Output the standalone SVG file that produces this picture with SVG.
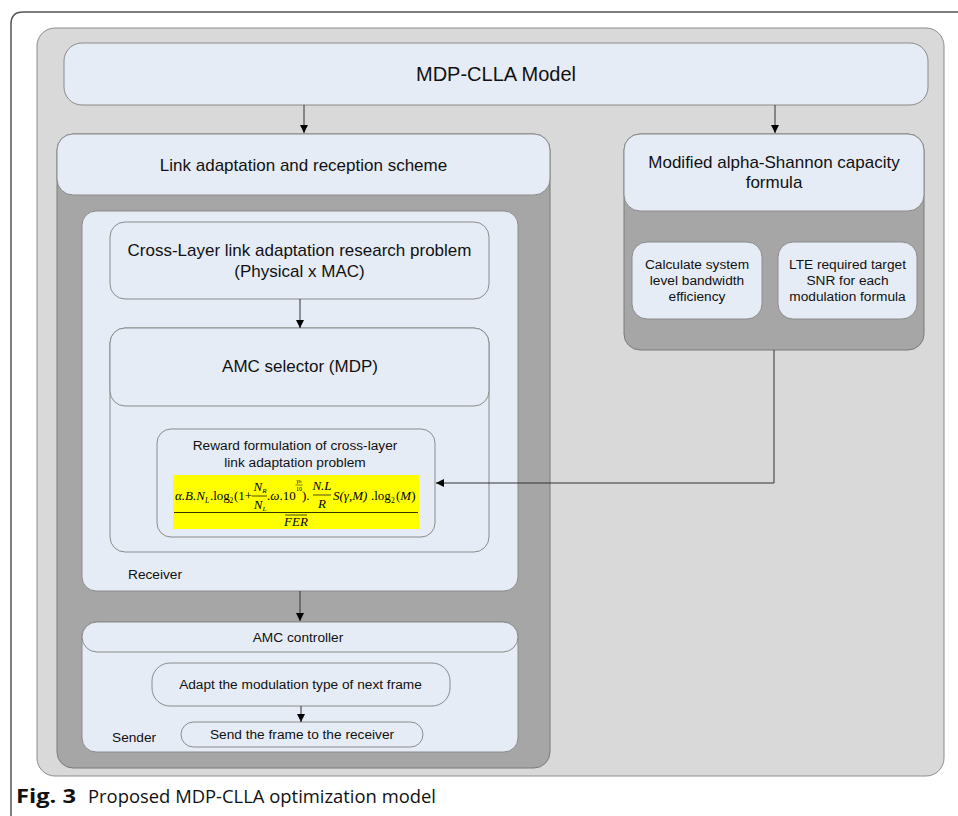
<svg xmlns="http://www.w3.org/2000/svg" width="958" height="816" viewBox="0 0 958 816">
<defs>
<style>
.box{fill:#e6ecf6;stroke:#8a8a8a;stroke-width:1}
.dark{fill:#a6a6a6;stroke:#7a7a7a;stroke-width:1}
.t{font-family:"Liberation Sans",Arial,sans-serif;fill:#111;text-anchor:middle}
.tl{font-family:"Liberation Sans",Arial,sans-serif;fill:#111}
.m{font-family:"Liberation Serif","Times New Roman",serif;font-style:italic;fill:#000}
.mu{font-family:"Liberation Serif","Times New Roman",serif;font-style:normal;fill:#000}
.conn{stroke:#333;stroke-width:1;fill:none}
</style>
<marker id="ah" viewBox="0 0 10 10" refX="10" refY="5" markerWidth="8" markerHeight="10" markerUnits="userSpaceOnUse" orient="auto">
<path d="M0,0 L10,5 L0,10 Z" fill="#000"/>
</marker>
</defs>
<rect width="958" height="816" fill="#fff"/>
<!-- outer frame -->
<path d="M11,830 L11,24 Q11,12 23,12 L970,12" fill="none" stroke="#555" stroke-width="1.5"/>
<!-- big gray panel -->
<rect x="37" y="28" width="907" height="748" rx="18" fill="#d9d9d9" stroke="#8c8c8c" stroke-width="1"/>

<g id="mdp-model">
<rect class="box" x="64" y="43" width="864" height="62" rx="18"/>
<text class="t" x="496" y="81" font-size="20">MDP-CLLA Model</text>
</g>

<g id="link-adaptation">
<rect class="dark" x="57" y="134" width="493" height="634" rx="16"/>
<rect class="box" x="57" y="134" width="493" height="61" rx="16"/>
<text class="t" x="303.5" y="171" font-size="17">Link adaptation and reception scheme</text>
</g>

<g id="receiver">
<rect class="box" x="82" y="211" width="436" height="380" rx="14"/>
<text class="tl" x="128" y="579" font-size="13.7">Receiver</text>
</g>

<g id="cross-layer">
<rect class="box" x="110" y="222" width="379" height="77" rx="15"/>
<text class="t" x="299.5" y="256" font-size="17">Cross-Layer link adaptation research problem</text>
<text class="t" x="299.5" y="277" font-size="17">(Physical x MAC)</text>
</g>

<g id="amc-selector">
<rect class="box" x="110" y="328" width="379" height="224" rx="15"/>
<rect class="box" x="110" y="328" width="379" height="78" rx="15"/>
<text class="t" x="300" y="372" font-size="17">AMC selector (MDP)</text>
</g>

<g id="reward">
<rect class="box" x="157" y="429" width="278" height="108" rx="14"/>
<text class="t" x="295" y="450" font-size="13.7">Reward formulation of cross-layer</text>
<text class="t" x="295" y="467" font-size="13.7">link adaptation problem</text>
<rect x="173" y="475" width="246" height="54" fill="#ffff00"/>
<text class="m" y="500" font-size="13"><tspan x="175">α.B.N</tspan><tspan font-size="7.5" dy="3">L</tspan><tspan class="mu" x="210" dy="-3">.log</tspan><tspan class="mu" font-size="7.5" x="229.5" dy="3">2</tspan><tspan class="mu" x="234" dy="-3">(1+</tspan><tspan class="mu" x="267">.</tspan><tspan>ω</tspan><tspan class="mu">.10</tspan><tspan class="mu" x="302">).</tspan><tspan x="333">S(γ,M)</tspan><tspan class="mu" x="371">.log</tspan><tspan class="mu" font-size="7.5" x="391" dy="3">2</tspan><tspan class="mu" x="396" dy="-3">(</tspan><tspan>M</tspan><tspan class="mu">)</tspan></text>
<text class="m" x="260" y="491" font-size="13" text-anchor="middle">N<tspan font-size="7" dy="2">R</tspan></text>
<line x1="252" y1="496" x2="267" y2="496" stroke="#000" stroke-width="0.7"/>
<text class="m" x="260" y="509" font-size="13" text-anchor="middle">N<tspan font-size="7" dy="2">L</tspan></text>
<text class="m" x="299" y="483" font-size="6.5" text-anchor="middle">γ<tspan font-size="5">b</tspan></text>
<line x1="295.5" y1="485" x2="302.5" y2="485" stroke="#000" stroke-width="0.5"/>
<text class="mu" x="299" y="491" font-size="6" text-anchor="middle">10</text>
<text class="m" x="322" y="490" font-size="13" text-anchor="middle">N.L</text>
<line x1="313" y1="495" x2="331" y2="495" stroke="#000" stroke-width="0.7"/>
<text class="m" x="322" y="508" font-size="13" text-anchor="middle">R</text>
<line x1="174" y1="512.5" x2="418" y2="512.5" stroke="#000" stroke-width="0.8"/>
<line x1="285" y1="515" x2="307" y2="515" stroke="#000" stroke-width="0.7"/>
<text class="m" x="296" y="526" font-size="13" text-anchor="middle">FER</text>
</g>

<g id="modified-alpha">
<rect class="dark" x="624" y="134" width="300" height="216" rx="16"/>
<rect class="box" x="624" y="134" width="300" height="77" rx="16"/>
<text class="t" x="774" y="168" font-size="17">Modified alpha-Shannon capacity</text>
<text class="t" x="774" y="188" font-size="17">formula</text>
</g>

<g id="calc-efficiency">
<rect class="box" x="632" y="242" width="130" height="77" rx="15"/>
<text class="t" x="697" y="269" font-size="13.7">Calculate system</text>
<text class="t" x="697" y="285" font-size="13.7">level bandwidth</text>
<text class="t" x="697" y="301" font-size="13.7">efficiency</text>
</g>

<g id="lte-snr">
<rect class="box" x="778" y="242" width="139" height="77" rx="15"/>
<text class="t" x="847.5" y="269" font-size="13.7">LTE required target</text>
<text class="t" x="847.5" y="285" font-size="13.7">SNR for each</text>
<text class="t" x="847.5" y="301" font-size="13.7">modulation formula</text>
</g>

<g id="sender">
<rect class="box" x="82" y="622" width="436" height="130" rx="14"/>
<rect class="box" x="82" y="622" width="436" height="30" rx="15"/>
<text class="t" x="298" y="641.5" font-size="13.7">AMC controller</text>
<text class="tl" x="112" y="742" font-size="13.7">Sender</text>
</g>

<g id="adapt">
<rect class="box" x="152" y="663" width="298" height="43" rx="18"/>
<text class="t" x="300.5" y="689" font-size="13.7">Adapt the modulation type of next frame</text>
</g>

<g id="send">
<rect class="box" x="181" y="722" width="242" height="25" rx="12.5"/>
<text class="t" x="302" y="738.5" font-size="13.7">Send the frame to the receiver</text>
</g>

<g id="connectors">
<line class="conn" x1="304" y1="105" x2="304" y2="133" marker-end="url(#ah)"/>
<line class="conn" x1="775" y1="105" x2="775" y2="133" marker-end="url(#ah)"/>
<line class="conn" x1="300" y1="299" x2="300" y2="328" marker-end="url(#ah)"/>
<polyline class="conn" points="774,350 774,483 436,483" stroke="#777" marker-end="url(#ah)"/>
<line class="conn" x1="300" y1="591" x2="300" y2="621" marker-end="url(#ah)"/>
<line class="conn" x1="301" y1="706" x2="301" y2="722" marker-end="url(#ah)"/>
</g>

<g id="caption">
<text x="16" y="803" font-family="'Open Sans','Liberation Sans',sans-serif" font-size="19" font-weight="bold" fill="#111" textLength="60" lengthAdjust="spacingAndGlyphs">Fig. 3</text>
<text x="88" y="803" font-family="'Open Sans','Liberation Sans',sans-serif" font-size="19" fill="#111" textLength="348" lengthAdjust="spacingAndGlyphs">Proposed MDP-CLLA optimization model</text>
</g>
</svg>
